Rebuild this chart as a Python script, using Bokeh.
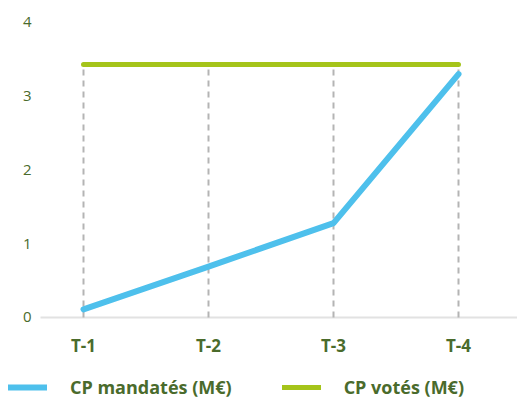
from bokeh.plotting import figure
from bokeh.models import Range1d, Legend, LegendItem, ColumnDataSource
from bokeh.core.properties import value
from bokeh.embed import file_html
from bokeh.resources import INLINE

# ---- data ----
categories = ["T-1", "T-2", "T-3", "T-4"]
cp_mandates = [0.11, 0.69, 1.28, 3.30]
cp_votes = [3.43, 3.43, 3.43, 3.43]
y_ticks = [0, 1, 2, 3, 4]
series_names = ["CP mandatés (M€)", "CP votés (M€)"]

BLUE = "#4ec0ec"
GREEN = "#a5c41a"
TEXT = "#4a6b2c"
FONT = "Open Sans"

# layout constants (data units of the full-canvas frame)
X_START, X_END = -0.664, 3.472
Y_START, Y_END = -1.112, 4.298
AXIS_X0 = -0.344          # where the baseline starts (left of first category)
YLAB_X = -0.416           # right edge of y tick labels
XLAB_Y = -0.38            # centre line of category labels

xs = list(range(len(categories)))
src = ColumnDataSource(dict(x=xs, mand=cp_mandates, vot=cp_votes,
                            zero=[0] * len(xs)))

p = figure(width=517, height=399, output_backend="svg", toolbar_location=None,
           x_range=Range1d(X_START, X_END), y_range=Range1d(Y_START, Y_END),
           x_axis_location=None, y_axis_location=None,
           min_border=0)
p.outline_line_color = None
p.background_fill_color = "white"
p.border_fill_color = "white"
p.grid.visible = False

# baseline (x axis line)
p.segment(x0=[AXIS_X0], y0=[0], x1=[X_END], y1=[0],
          line_color="#e2e2e2", line_width=2)

# dashed verticals from axis up to voted line
p.segment(x0="x", y0="zero", x1="x", y1="vot", source=src,
          line_color="#b4b4b4", line_width=2, line_dash="6 5")

r_vot = p.line("x", "vot", source=src, line_color=GREEN, line_width=5,
               line_cap="round")
r_mand = p.line("x", "mand", source=src, line_color=BLUE, line_width=6,
                line_cap="round", line_join="round")

# y tick labels
p.text(x=[YLAB_X] * len(y_ticks), y=y_ticks, text=[str(t) for t in y_ticks],
       text_align="right", text_baseline="middle", text_font=value(FONT),
       text_font_size=value("15px"), text_color=TEXT)

# category labels
p.text(x=xs, y=[XLAB_Y] * len(xs), text=categories,
       text_align="center", text_baseline="middle", text_font=value(FONT),
       text_font_style="bold", text_font_size=value("17px"), text_color=TEXT)

legend = Legend(items=[LegendItem(label=series_names[0], renderers=[r_mand]),
                       LegendItem(label=series_names[1], renderers=[r_vot])],
                orientation="horizontal", location=(8, 0),
                padding=0, margin=0, spacing=50, glyph_width=39, glyph_height=20,
                label_standoff=23, border_line_color=None,
                background_fill_alpha=0,
                label_text_font=FONT, label_text_font_style="bold",
                label_text_font_size="18px", label_text_color=TEXT)
p.add_layout(legend, "center")

open("out.html", "w").write(file_html(p, INLINE))
